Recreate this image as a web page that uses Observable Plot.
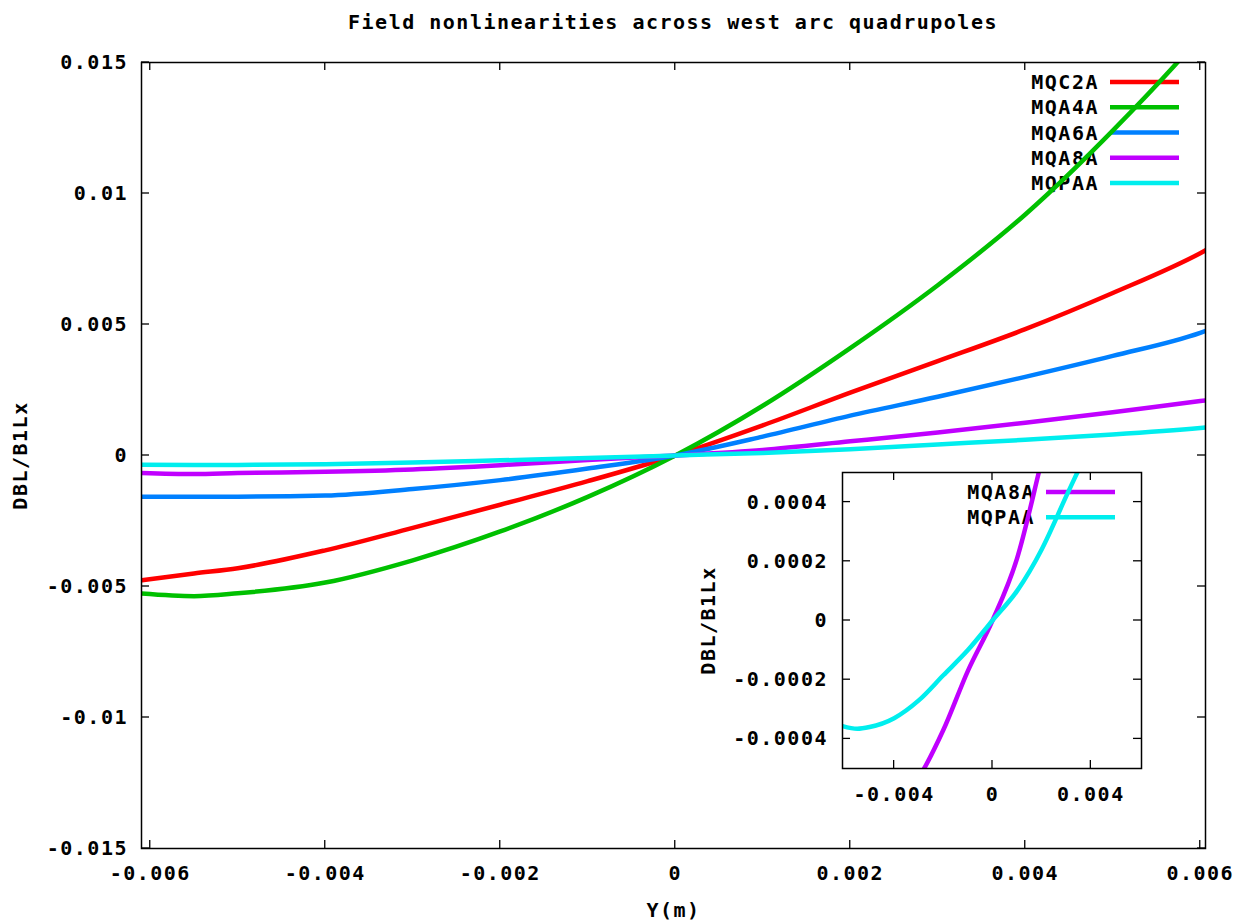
<!DOCTYPE html>
<html>
<head>
<meta charset="utf-8">
<script src="https://cdn.jsdelivr.net/npm/d3@7"></script>
<script src="https://cdn.jsdelivr.net/npm/@observablehq/plot@0.6"></script>
<style>
  body { margin: 0; background: #fff; }
  #wrap { position: relative; width: 1238px; height: 922px; overflow: hidden; background: #fff; }
  #title { position: absolute; left: 141px; top: 12px; width: 1064px; height: 20px; line-height: 20px;
    text-align: center; font-family: 'DejaVu Sans Mono', 'Liberation Mono', monospace; font-weight: bold;
    font-size: 20px; letter-spacing: 1.5px; color: #000; }
  #main, #inset { position: absolute; left: 0; top: 42px; }
  #inset { pointer-events: none; }
</style>
</head>
<body>
<div id="wrap">
  <div id="title">Field nonlinearities across west arc quadrupoles</div>
  <div id="main"></div>
  <div id="inset"></div>
</div>
<script>
// ---- data ----
const yPos = [-0.0061, -0.0055, -0.005, -0.004, -0.003, -0.002, -0.001, 0, 0.001, 0.002, 0.003, 0.004, 0.005, 0.006, 0.0061];
const mqc2a = [-0.00476, -0.00450, -0.00430, -0.00362, -0.00276, -0.00188, -0.00098, 0, 0.00115, 0.00240, 0.00360, 0.00482, 0.00620, 0.00772, 0.00790];
const mqa4a = [-0.00527, -0.00537, -0.00526, -0.00485, -0.00400, -0.00290, -0.00158, 0, 0.00190, 0.00410, 0.00650, 0.00920, 0.01240, 0.01600, 0.01640];
const mqa6a = [-0.00157, -0.00157, -0.00157, -0.00153, -0.00128, -0.00094, -0.00050, 0, 0.00072, 0.00152, 0.00224, 0.00300, 0.00380, 0.00468, 0.00480];
const mqa8a = [-0.00067, -0.00071, -0.00067, -0.00062, -0.00053, -0.00037, -0.00017, 0, 0.00021, 0.00054, 0.00088, 0.00125, 0.00165, 0.00208, 0.00212];
const mqpaa = [-0.000357, -0.000366, -0.00036, -0.00033, -0.00027, -0.000185, -0.0001, 0, 0.0001, 0.00024, 0.00042, 0.0006, 0.0008, 0.00105, 0.00108];

const seriesNames = ["MQC2A", "MQA4A", "MQA6A", "MQA8A", "MQPAA"];
const seriesValues = [mqc2a, mqa4a, mqa6a, mqa8a, mqpaa];
const seriesColors = ["#ff0000", "#00c000", "#0080ff", "#c000ff", "#00eeee"];

const xTicks = [-0.006, -0.004, -0.002, 0, 0.002, 0.004, 0.006];
const xTickLabels = ["-0.006", "-0.004", "-0.002", "0", "0.002", "0.004", "0.006"];
const yTicks = [-0.015, -0.01, -0.005, 0, 0.005, 0.01, 0.015];
const yTickLabels = ["-0.015", "-0.01", "-0.005", "0", "0.005", "0.01", "0.015"];

const insetNames = ["MQA8A", "MQPAA"];
const insetXTicks = [-0.004, 0, 0.004];
const insetXTickLabels = ["-0.004", "0", "0.004"];
const insetYTicks = [-0.0004, -0.0002, 0, 0.0002, 0.0004];
const insetYTickLabels = ["-0.0004", "-0.0002", "0", "0.0002", "0.0004"];

const xLabel = "Y(m)";
const yLabel = "DBL/B1Lx";

// ---- helpers ----
const rows = seriesNames.flatMap((name, s) =>
  yPos.map((x, i) => ({series: name, x, v: seriesValues[s][i]})));
const colorOf = Object.fromEntries(seriesNames.map((n, i) => [n, seriesColors[i]]));

const font = {
  fontFamily: "'DejaVu Sans Mono', 'Liberation Mono', monospace",
  fontSize: "20px", fontWeight: "bold", letterSpacing: "1.5px", color: "#000"
};
const TICK = 8;
const LW = 4.5;

function lookup(ticks, labels) {
  return d => { const i = ticks.indexOf(d); return i >= 0 ? labels[i] : String(d); };
}

// inward ticks on all four sides (gnuplot style)
function ticksMark(xt, yt) {
  return (index, scales, values, dims) => {
    const {x, y} = scales;
    const top = dims.marginTop, bottom = dims.height - dims.marginBottom;
    const left = dims.marginLeft, right = dims.width - dims.marginRight;
    const g = d3.create("svg:g").attr("stroke", "#000").attr("stroke-width", 1.3);
    for (const t of xt) {
      const px = x(t);
      g.append("line").attr("x1", px).attr("x2", px).attr("y1", bottom).attr("y2", bottom - TICK);
      g.append("line").attr("x1", px).attr("x2", px).attr("y1", top).attr("y2", top + TICK);
    }
    for (const t of yt) {
      const py = y(t);
      g.append("line").attr("y1", py).attr("y2", py).attr("x1", left).attr("x2", left + TICK);
      g.append("line").attr("y1", py).attr("y2", py).attr("x1", right).attr("x2", right - TICK);
    }
    return g.node();
  };
}

// key at top-right inside the frame
function keyMark(names) {
  return (index, scales, values, dims) => {
    const top = dims.marginTop, right = dims.width - dims.marginRight;
    const g = d3.create("svg:g");
    names.forEach((n, k) => {
      const cy = top + 20 + k * 25.25;
      g.append("text").attr("x", right - 106).attr("y", cy).attr("dy", "0.36em")
        .attr("text-anchor", "end").attr("fill", "#000").text(n);
      g.append("line").attr("x1", right - 95).attr("x2", right - 26).attr("y1", cy).attr("y2", cy)
        .attr("stroke", colorOf[n]).attr("stroke-width", LW);
    });
    return g.node();
  };
}

// ---- main chart ----
const W = 1238, H = 880;
const main = Plot.plot({
  width: W, height: H,
  marginLeft: 141, marginRight: 33, marginTop: 20, marginBottom: 74,
  style: {...font, background: "white", overflow: "visible"},
  x: {domain: [-0.0061, 0.00606], ticks: xTicks, tickSize: 0, tickPadding: 17,
      tickFormat: lookup(xTicks, xTickLabels), label: null},
  y: {domain: [-0.015, 0.015], ticks: yTicks, tickSize: 0, tickPadding: 13.5,
      tickFormat: lookup(yTicks, yTickLabels), label: null},
  marks: [
    ticksMark(xTicks, yTicks),
    keyMark(seriesNames),
    ...seriesNames.map(n => Plot.line(rows.filter(r => r.series === n), {
      x: "x", y: "v", stroke: colorOf[n], strokeWidth: LW, curve: "monotone-x", clip: true
    })),
    Plot.frame({stroke: "#000", strokeWidth: 1.5}),
    Plot.text([xLabel], {text: d => d, frameAnchor: "bottom", dy: 62, lineAnchor: "middle", fill: "#000"}),
    Plot.text([yLabel], {text: d => d, frameAnchor: "left", dx: -121, rotate: -90, textAnchor: "middle", lineAnchor: "middle", fill: "#000"})
  ]
});
document.getElementById("main").appendChild(main);

// ---- inset ----
const insetRows = rows.filter(r => insetNames.includes(r.series));
const inset = Plot.plot({
  width: W, height: H,
  marginLeft: 842, marginRight: 97, marginTop: 430, marginBottom: 154,
  style: {...font, background: "transparent", overflow: "visible"},
  x: {domain: [-0.0061, 0.00606], ticks: insetXTicks, tickSize: 0, tickPadding: 18,
      tickFormat: lookup(insetXTicks, insetXTickLabels), label: null},
  y: {domain: [-0.0005, 0.0005], ticks: insetYTicks, tickSize: 0, tickPadding: 14.5,
      tickFormat: lookup(insetYTicks, insetYTickLabels), label: null},
  marks: [
    Plot.frame({fill: "white", stroke: "none"}),
    ticksMark(insetXTicks, insetYTicks),
    keyMark(insetNames),
    ...insetNames.map(n => Plot.line(insetRows.filter(r => r.series === n), {
      x: "x", y: "v", stroke: colorOf[n], strokeWidth: LW, curve: "monotone-x", clip: true
    })),
    Plot.frame({stroke: "#000", strokeWidth: 1.5}),
    Plot.text([yLabel], {text: d => d, frameAnchor: "left", dx: -134, rotate: -90, textAnchor: "middle", lineAnchor: "middle", fill: "#000"})
  ]
});
document.getElementById("inset").appendChild(inset);
</script>
</body>
</html>
